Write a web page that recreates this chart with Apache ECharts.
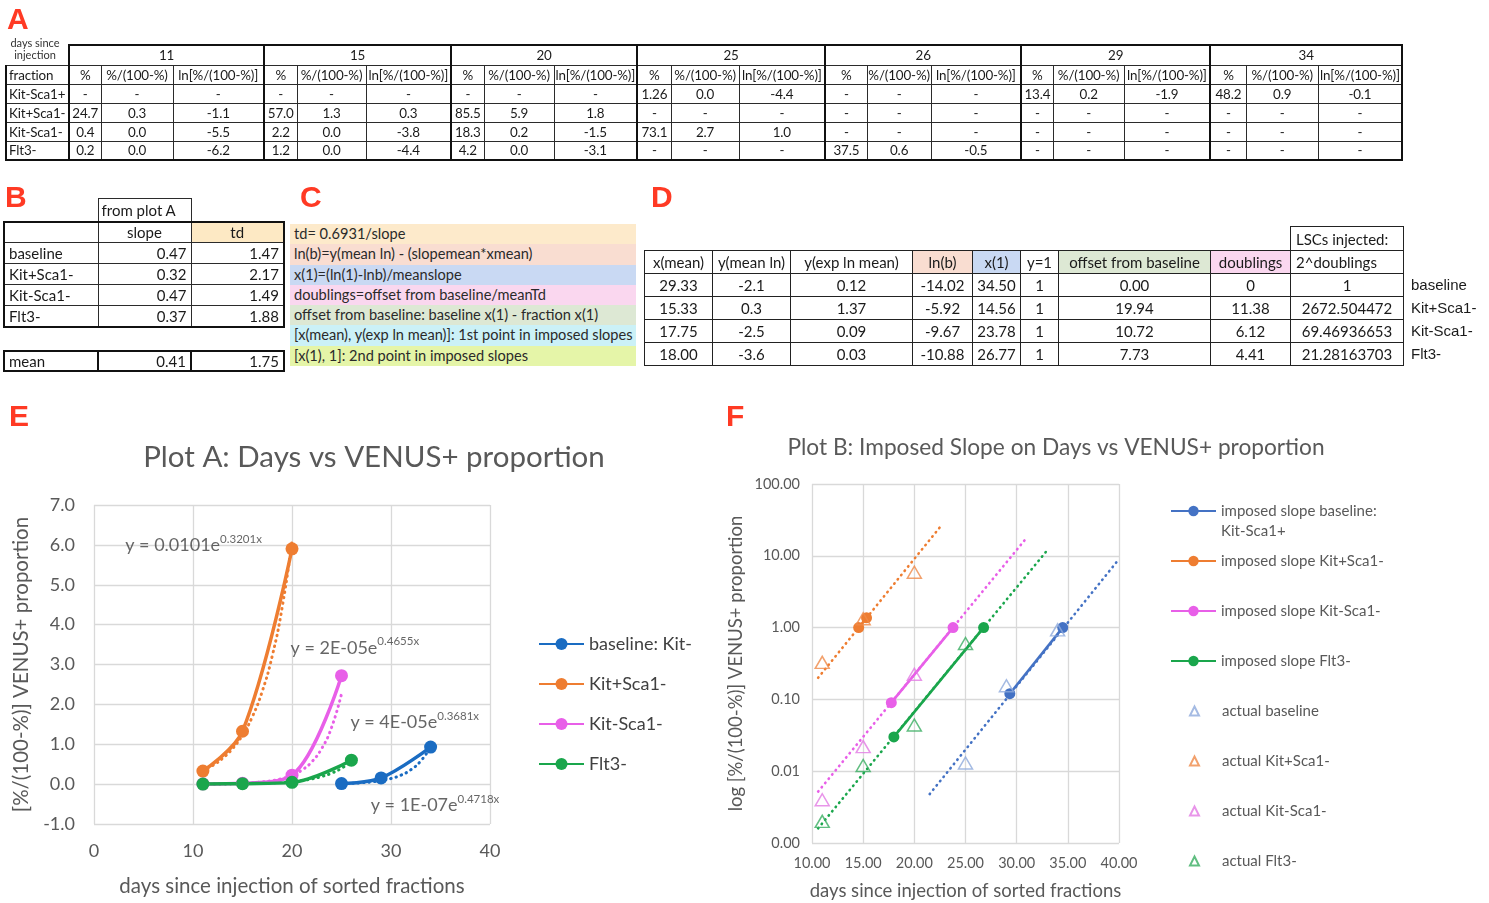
<!DOCTYPE html>
<html>
<head>
<meta charset="utf-8">
<title>VENUS+ proportion by sorted fraction</title>
<script src="https://cdn.jsdelivr.net/npm/echarts@6/dist/echarts.min.js"></script>
<style>
  html, body { margin: 0; padding: 0; background: #fff; }
  body { width: 1489px; height: 903px; position: relative; overflow: hidden;
         font-family: Lato, 'Noto Sans', sans-serif; color: #1a1a1a; }
  #chart { position: absolute; left: 0; top: 0; width: 1489px; height: 903px; z-index: 1; }
  .panel { position: absolute; z-index: 3; color: #ff3a24;
           font: bold 30px/30px 'Liberation Sans', Arial, sans-serif; }
  table { position: absolute; z-index: 2; border-collapse: collapse; table-layout: fixed; }
  td { padding: 0; white-space: nowrap; overflow: hidden; text-align: center; line-height: 16px; }

  /* table A */
  #tA { left: 5px; top: 44px; width: 1396px; font-size: 13.4px; letter-spacing: -0.15px; }
  #tA td { border: 1px solid #2b2b2b; }
  #tA tr { height: 19px; }
  #tA tr.days { height: 20px; }
  #tA tr.days td { border-top: 2px solid #111; }
  #tA tr.last td { border-bottom: 2px solid #111; }
  #tA td.g { border-left: 2px solid #111; }
  #tA td.r { border-right: 2px solid #111; }
  #tA td.lab { text-align: left; padding-left: 2px; border-left: 2px solid #111; }
  #tA tr.days td.corner { border: none; overflow: visible; text-align: left; vertical-align: top; }
  #tA td.corner div { position: relative; top: -8px; left: 2px; height: 0; overflow: visible; letter-spacing: 0;
                      font-size: 11px; line-height: 12px; color: #333; text-align: center; width: 54px; }

  /* table B */
  #tB { left: 3px; top: 198px; width: 280px; font-size: 15px; }
  #tB td { border: 1px solid #2b2b2b; }
  #tB tr { height: 21px; }
  #tB tr.fp { height: 23px; }
  #tB td.nb { border: none; }
  #tB td.fromA { text-align: left; padding-left: 3px; }
  #tB tr.hd td { border-top: 2px solid #111; }
  #tB tr.last td { border-bottom: 2px solid #111; }
  #tB td.lab { text-align: left; padding-left: 4px; border-left: 2px solid #111; }
  #tB td.num { text-align: right; padding-right: 4px; }
  #tB td.rr { border-right: 2px solid #111; }
  #tB td.tdh { background: #fde9c4; }
  #tBm { left: 3px; top: 350px; width: 280px; font-size: 15px; }
  #tBm tr { height: 20px; }
  #tBm td { border: 2px solid #111; }
  #tBm td.in { border-left: 1px solid #2b2b2b; border-right: 1px solid #2b2b2b; }
  #tBm td.lab { text-align: left; padding-left: 4px; }
  #tBm td.num { text-align: right; padding-right: 4px; }

  /* panel C notes */
  #notes { position: absolute; z-index: 2; left: 290px; top: 224px; width: 346px; font-size: 14.6px; color: #2a2a2a; }
  #notes div { height: 20.3px; line-height: 20.3px; padding-left: 4px; white-space: nowrap; }

  /* table D */
  #tD { left: 644px; top: 226px; width: 845px; font-size: 15px; }
  #tD tr { height: 23px; }
  #tD tr.top { height: 24px; }
  #tD td.b { border: 1px solid #222; }
  #tD td.lft { text-align: left; padding-left: 5px; }
  #tD td.side { text-align: left; padding-left: 7px; font-family: 'Liberation Sans', Arial, sans-serif; font-size: 15px; }
</style>
</head>
<body>
<div id="chart"></div>

<div class="panel" style="left:7px;top:4px">A</div>
<div class="panel" style="left:5px;top:182px">B</div>
<div class="panel" style="left:300px;top:182px">C</div>
<div class="panel" style="left:651px;top:182px">D</div>
<div class="panel" style="left:9px;top:401px">E</div>
<div class="panel" style="left:726px;top:401px">F</div>

<table id="tA"></table>
<table id="tB"></table>
<table id="tBm"></table>
<div id="notes"></div>
<table id="tD"></table>

<script>
// ---------------- Panel A: VENUS+ measurements per sorted fraction ----------------
const daysSinceInjection = [11, 15, 20, 25, 26, 29, 34];
const measureHeads = ['%', '%/(100-%)', 'ln[%/(100-%)]'];
const fractionNames = ['Kit-Sca1+', 'Kit+Sca1-', 'Kit-Sca1-', 'Flt3-'];
const pctByFraction = [
  ['-', '-', '-', '1.26', '-', '13.4', '48.2'],
  ['24.7', '57.0', '85.5', '-', '-', '-', '-'],
  ['0.4', '2.2', '18.3', '73.1', '-', '-', '-'],
  ['0.2', '1.2', '4.2', '-', '37.5', '-', '-']
];
const ratioByFraction = [
  ['-', '-', '-', '0.0', '-', '0.2', '0.9'],
  ['0.3', '1.3', '5.9', '-', '-', '-', '-'],
  ['0.0', '0.0', '0.2', '2.7', '-', '-', '-'],
  ['0.0', '0.0', '0.0', '-', '0.6', '-', '-']
];
const lnRatioByFraction = [
  ['-', '-', '-', '-4.4', '-', '-1.9', '-0.1'],
  ['-1.1', '0.3', '1.8', '-', '-', '-', '-'],
  ['-5.5', '-3.8', '-1.5', '1.0', '-', '-', '-'],
  ['-6.2', '-4.4', '-3.1', '-', '-0.5', '-', '-']
];

// ---------------- Panel B: slopes from plot A ----------------
const slopeRowNames = ['baseline', 'Kit+Sca1-', 'Kit-Sca1-', 'Flt3-'];
const slopeValues = ['0.47', '0.32', '0.47', '0.37'];
const doublingTimes = ['1.47', '2.17', '1.49', '1.88'];
const slopeMean = '0.41';
const doublingTimeMean = '1.75';

// ---------------- Panel C: formula notes ----------------
const noteLines = [
  'td= 0.6931/slope',
  'ln(b)=y(mean ln) - (slopemean*xmean)',
  'x(1)=(ln(1)-lnb)/meanslope',
  'doublings=offset from baseline/meanTd',
  'offset from baseline: baseline x(1) -  fraction x(1)',
  '[x(mean), y(exp ln mean)]: 1st point in imposed slopes',
  '[x(1), 1]: 2nd point in imposed slopes'
];
const noteColors = ['#fdeacb', '#f9ddd1', '#c9d9f3', '#fad7ef', '#dde8d4', '#cbf1f7', '#e5f5a8'];

// ---------------- Panel D: imposed-slope points ----------------
const dHeads = ['x(mean)', 'y(mean ln)', 'y(exp ln mean)', 'ln(b)', 'x(1)', 'y=1', 'offset from baseline', 'doublings', '2^doublings'];
const dHeadColors = ['', '', '', '#f9ddd1', '#c9d9f3', '', '#dde8d4', '#fad7ef', ''];
const dRowNames = ['baseline', 'Kit+Sca1-', 'Kit-Sca1-', 'Flt3-'];
const xMean = [29.33, 15.33, 17.75, 18.00];
const yMeanLn = [-2.1, 0.3, -2.5, -3.6];
const yExpLnMean = [0.12, 1.37, 0.09, 0.03];
const lnB = [-14.02, -5.92, -9.67, -10.88];
const xOne = [34.50, 14.56, 23.78, 26.77];
const yOne = [1, 1, 1, 1];
const offsetFromBaseline = [0.00, 19.94, 10.72, 7.73];
const doublingsText = ['0', '11.38', '6.12', '4.41'];
const lscsInjectedText = ['1', '2672.504472', '69.46936653', '21.28163703'];

// ---------------- Plot A (panel E): days vs [%/(100-%)] ----------------
const daysBaseline = [25, 29, 34];
const ratioBaseline = [0.013, 0.155, 0.93];
const daysKitPos = [11, 15, 20];
const ratioKitPos = [0.328, 1.326, 5.90];
const daysKitNeg = [11, 15, 20, 25];
const ratioKitNeg = [0.004, 0.022, 0.224, 2.72];
const daysFlt3 = [11, 15, 20, 26];
const ratioFlt3 = [0.002, 0.012, 0.044, 0.60];

// exponential trendlines, read at whole days
const trendDaysBaseline = [25, 26, 27, 28, 29, 30, 31, 32, 33, 34];
const trendBaseline = [0.0133, 0.0213, 0.0341, 0.0546, 0.0875, 0.140, 0.225, 0.360, 0.578, 0.926];
const trendDaysKitPos = [11, 12, 13, 14, 15, 16, 17, 18, 19, 20];
const trendKitPos = [0.342, 0.470, 0.648, 0.892, 1.229, 1.693, 2.331, 3.211, 4.422, 6.090];
const trendDaysKitNeg = [11, 12, 13, 14, 15, 16, 17, 18, 19, 20, 21, 22, 23, 24, 25];
const trendKitNeg = [0.0033, 0.0053, 0.0085, 0.0135, 0.0216, 0.0343, 0.0547, 0.0871, 0.139, 0.221, 0.352, 0.561, 0.893, 1.422, 2.265];
const trendDaysFlt3 = [11, 12, 13, 14, 15, 16, 17, 18, 19, 20, 21, 22, 23, 24, 25, 26];
const trendFlt3 = [0.0023, 0.0033, 0.0048, 0.0069, 0.0100, 0.0145, 0.0209, 0.0302, 0.0436, 0.0630, 0.0910, 0.1315, 0.190, 0.275, 0.397, 0.574];
const trendCoefText = ['0.0101', '2E-05', '4E-05', '1E-07'];
const trendRateText = ['0.3201', '0.4655', '0.3681', '0.4718'];

// ---------------- Plot B (panel F): actual values on log scale ----------------
const actualDaysBaseline = [25, 29, 34];
const actualBaseline = [0.013, 0.155, 0.93];
const actualDaysKitPos = [11, 15, 20];
const actualKitPos = [0.328, 1.326, 5.90];
const actualDaysKitNeg = [11, 15, 20];
const actualKitNeg = [0.004, 0.022, 0.224];
const actualDaysFlt3 = [11, 15, 20, 25];
const actualFlt3 = [0.002, 0.012, 0.044, 0.60];
// dotted imposed-slope trendlines: start and end points
const imposedTrendStart = [[21.5, 0.0048], [10.6, 0.20], [10.6, 0.0052], [10.6, 0.0016]];
const imposedTrendEnd = [[40, 9.0], [22.5, 25], [31.0, 18], [33.0, 12]];

// ================= tables =================
function buildTableA() {
  const colW = [63, 32, 72, 91, 33, 69, 85, 33, 70, 83, 34, 68, 86, 42, 64, 90, 32, 71, 86, 36, 72, 84];
  const nDays = daysSinceInjection.length;
  let h = '<colgroup>' + colW.map(w => `<col style="width:${w}px">`).join('') + '</colgroup>';
  h += '<tr class="days"><td class="corner"><div>days since<br>injection</div></td>' +
    daysSinceInjection.map((d, i) => `<td colspan="3" class="g${i === nDays - 1 ? ' r' : ''}">${d}</td>`).join('') + '</tr>';
  const cellRow = (vals) => vals.map((v, k) =>
    `<td class="${k % 3 === 0 ? 'g' : ''}${k === vals.length - 1 ? ' r' : ''}">${v}</td>`).join('');
  const headVals = [];
  daysSinceInjection.forEach(() => headVals.push(...measureHeads));
  h += '<tr><td class="lab">fraction</td>' + cellRow(headVals) + '</tr>';
  fractionNames.forEach((f, r) => {
    const vals = [];
    daysSinceInjection.forEach((d, c) => vals.push(pctByFraction[r][c], ratioByFraction[r][c], lnRatioByFraction[r][c]));
    h += `<tr class="${r === fractionNames.length - 1 ? 'last' : ''}"><td class="lab">${f}</td>` + cellRow(vals) + '</tr>';
  });
  document.getElementById('tA').innerHTML = h;
}

function buildTableB() {
  let h = '<colgroup><col style="width:94px"><col style="width:93px"><col style="width:93px"></colgroup>';
  h += '<tr class="fp"><td class="nb"></td><td class="fromA">from plot A</td><td class="nb"></td></tr>';
  h += '<tr class="hd"><td class="lab"></td><td>slope</td><td class="tdh rr">td</td></tr>';
  slopeRowNames.forEach((n, i) => {
    h += `<tr class="${i === slopeRowNames.length - 1 ? 'last' : ''}"><td class="lab">${n}</td>` +
      `<td class="num">${slopeValues[i]}</td><td class="num rr">${doublingTimes[i]}</td></tr>`;
  });
  document.getElementById('tB').innerHTML = h;
  document.getElementById('tBm').innerHTML =
    '<colgroup><col style="width:94px"><col style="width:93px"><col style="width:93px"></colgroup>' +
    `<tr><td class="lab">mean</td><td class="num in">${slopeMean}</td><td class="num">${doublingTimeMean}</td></tr>`;
}

function buildNotes() {
  document.getElementById('notes').innerHTML =
    noteLines.map((t, i) => `<div style="background:${noteColors[i]}">${t}</div>`).join('');
}

function buildTableD() {
  const colW = [68, 78, 122, 60, 48, 38, 152, 80, 113, 86];
  let h = '<colgroup>' + colW.map(w => `<col style="width:${w}px">`).join('') + '</colgroup>';
  h += '<tr class="top">' + '<td></td>'.repeat(8) + '<td class="b lft">LSCs injected:</td><td></td></tr>';
  h += '<tr>' + dHeads.map((t, i) =>
    `<td class="b${i === 8 ? ' lft' : ''}" style="${dHeadColors[i] ? 'background:' + dHeadColors[i] : ''}">${t}</td>`).join('') + '<td></td></tr>';
  dRowNames.forEach((n, i) => {
    const cells = [xMean[i].toFixed(2), yMeanLn[i].toFixed(1), yExpLnMean[i].toFixed(2), lnB[i].toFixed(2),
      xOne[i].toFixed(2), String(yOne[i]), offsetFromBaseline[i].toFixed(2), doublingsText[i], lscsInjectedText[i]];
    h += '<tr>' + cells.map(c => `<td class="b">${c}</td>`).join('') + `<td class="side">${n}</td></tr>`;
  });
  document.getElementById('tD').innerHTML = h;
}

buildTableA();
buildTableB();
buildNotes();
buildTableD();

// ================= charts =================
const zip = (xs, ys) => xs.map((x, i) => [x, ys[i]]);
const FONT = 'Lato';
const GRID_LINE = '#d9d9d9';
const AXIS_TEXT = '#595959';

const colE = { baseline: '#1a6cc2', kitPos: '#ee7d31', kitNeg: '#e85fe8', flt3: '#1aa64c' };
const colF = { baseline: '#4472c4', kitPos: '#ee7d31', kitNeg: '#e85fe8', flt3: '#1aa64c' };
const colTri = { baseline: '#8eaadc', kitPos: '#ef8a48', kitNeg: '#e27be4', flt3: '#3aae62' };

const plotA = [
  { name: 'baseline: Kit-', color: colE.baseline, d: zip(daysBaseline, ratioBaseline), t: zip(trendDaysBaseline, trendBaseline) },
  { name: 'Kit+Sca1-', color: colE.kitPos, d: zip(daysKitPos, ratioKitPos), t: zip(trendDaysKitPos, trendKitPos) },
  { name: 'Kit-Sca1-', color: colE.kitNeg, d: zip(daysKitNeg, ratioKitNeg), t: zip(trendDaysKitNeg, trendKitNeg) },
  { name: 'Flt3-', color: colE.flt3, d: zip(daysFlt3, ratioFlt3), t: zip(trendDaysFlt3, trendFlt3) }
];

const dotted = (color, width) => ({ color, width, type: [0.5, 5], cap: 'round' });

const series = [];
plotA.forEach((p) => {
  series.push({
    name: p.name + ' trend', type: 'line', xAxisIndex: 0, yAxisIndex: 0,
    data: p.t, smooth: true, symbol: 'none', silent: true, z: 2,
    lineStyle: dotted(p.color, 3)
  });
});
plotA.forEach((p) => {
  series.push({
    name: p.name, type: 'line', xAxisIndex: 0, yAxisIndex: 0,
    data: p.d, smooth: 0.35, symbol: 'circle', symbolSize: 13, z: 3,
    lineStyle: { color: p.color, width: 3.5 }, itemStyle: { color: p.color }
  });
});

// trendline equations, anchored in data units of plot A
const eqAnchors = [[3.1, 6.0], [19.8, 3.42], [25.85, 1.56], [27.9, -0.52]];
series.push({
  name: 'equations', type: 'scatter', xAxisIndex: 0, yAxisIndex: 0, silent: true, z: 5,
  symbolSize: 1, itemStyle: { color: 'rgba(0,0,0,0)' },
  data: eqAnchors.map((a, i) => ({ value: a, coef: trendCoefText[i], rate: trendRateText[i] })),
  label: {
    show: true, position: 'right', distance: 0,
    formatter: (p) => `{m|y = ${p.data.coef}e}{s|${p.data.rate}x}`,
    rich: {
      m: { fontFamily: FONT, fontSize: 18, color: '#404040', lineHeight: 24 },
      s: { fontFamily: FONT, fontSize: 11.5, color: '#404040', verticalAlign: 'top' }
    }
  }
});

// plot B
const fracKeys = ['baseline', 'kitPos', 'kitNeg', 'flt3'];
const imposedNames = ['imposed slope baseline: Kit-Sca1+', 'imposed slope Kit+Sca1-', 'imposed slope Kit-Sca1-', 'imposed slope Flt3-'];
const actualNames = ['actual baseline', 'actual Kit+Sca1-', 'actual Kit-Sca1-', 'actual Flt3-'];
const actualData = [
  zip(actualDaysBaseline, actualBaseline), zip(actualDaysKitPos, actualKitPos),
  zip(actualDaysKitNeg, actualKitNeg), zip(actualDaysFlt3, actualFlt3)
];
fracKeys.forEach((k, i) => {
  series.push({
    name: imposedNames[i] + ' trend', type: 'line', xAxisIndex: 1, yAxisIndex: 1,
    data: [imposedTrendStart[i], imposedTrendEnd[i]], symbol: 'none', silent: true, z: 2,
    lineStyle: dotted(colF[k], 2.6)
  });
});
fracKeys.forEach((k, i) => {
  series.push({
    name: imposedNames[i], type: 'line', xAxisIndex: 1, yAxisIndex: 1,
    data: [[xMean[i], yExpLnMean[i]], [xOne[i], yOne[i]]],
    symbol: 'circle', symbolSize: 11, z: 3,
    lineStyle: { color: colF[k], width: 2.6 }, itemStyle: { color: colF[k] }
  });
});
fracKeys.forEach((k, i) => {
  series.push({
    name: actualNames[i], type: 'scatter', xAxisIndex: 1, yAxisIndex: 1,
    data: actualData[i], symbol: 'triangle', symbolSize: [14, 12], z: 4,
    itemStyle: { color: 'rgba(255,255,255,0)', borderColor: colTri[k], borderWidth: 1.5 }
  });
});

const axisText = (size) => ({ fontFamily: FONT, fontSize: size, color: AXIS_TEXT });

const option = {
  animation: false,
  backgroundColor: '#fff',
  textStyle: { fontFamily: FONT },
  graphic: [
    { type: 'text', x: 374, y: 457, style: { text: 'Plot A: Days vs VENUS+ proportion', font: '29.5px Lato', fill: '#595959', align: 'center', verticalAlign: 'middle' } },
    { type: 'text', x: 1056, y: 448, style: { text: 'Plot B: Imposed Slope on Days vs VENUS+ proportion', font: '22.7px Lato', fill: '#595959', align: 'center', verticalAlign: 'middle' } }
  ],
  grid: [
    { left: 94, top: 505, width: 396, height: 319 },
    { left: 812, top: 484, width: 307, height: 359 }
  ],
  xAxis: [
    {
      gridIndex: 0, type: 'value', min: 0, max: 40, interval: 10,
      axisLine: { show: false, onZero: false }, axisTick: { show: false },
      axisLabel: Object.assign({ margin: 18 }, axisText(18)),
      splitLine: { lineStyle: { color: GRID_LINE, width: 1.3 } },
      name: 'days since injection of sorted fractions', nameLocation: 'middle', nameGap: 52,
      nameTextStyle: axisText(20.5)
    },
    {
      gridIndex: 1, type: 'value', min: 10, max: 40, interval: 5,
      axisLine: { show: false, onZero: false }, axisTick: { show: false },
      axisLabel: Object.assign({ margin: 13, formatter: (v) => v.toFixed(2) }, axisText(14.5)),
      splitLine: { lineStyle: { color: GRID_LINE, width: 1.3 } },
      name: 'days since injection of sorted fractions', nameLocation: 'middle', nameGap: 39,
      nameTextStyle: axisText(18.5)
    }
  ],
  yAxis: [
    {
      gridIndex: 0, type: 'value', min: -1, max: 7, interval: 1,
      axisLine: { show: false }, axisTick: { show: false },
      axisLabel: Object.assign({ margin: 19, formatter: (v) => v.toFixed(1) }, axisText(18)),
      splitLine: { lineStyle: { color: GRID_LINE, width: 1.3 } },
      name: '[%/(100-%)] VENUS+ proportion', nameLocation: 'middle', nameGap: 62, nameRotate: 90,
      nameTextStyle: axisText(20.5)
    },
    {
      gridIndex: 1, type: 'log', logBase: 10, min: 0.001, max: 100,
      axisLine: { show: false }, axisTick: { show: false },
      axisLabel: Object.assign({ margin: 12, formatter: (v) => v.toFixed(2) }, axisText(14.5)),
      splitLine: { lineStyle: { color: GRID_LINE, width: 1.3 } },
      minorSplitLine: { show: false },
      name: 'log [%/(100-%)] VENUS+ proportion', nameLocation: 'middle', nameGap: 66, nameRotate: 90,
      nameTextStyle: axisText(18.5)
    }
  ],
  legend: [
    {
      left: 533, top: 628, orient: 'vertical', itemGap: 18, itemWidth: 45, itemHeight: 15,
      data: plotA.map(p => p.name), selectedMode: false,
      textStyle: { fontFamily: FONT, fontSize: 18, color: '#404040', lineHeight: 22 }
    },
    {
      left: 1165, top: 476, orient: 'vertical', itemWidth: 45, itemHeight: 13,
      data: [imposedNames[0]], selectedMode: false,
      formatter: (n) => '\n' + n.replace('baseline: ', 'baseline:\n'),
      textStyle: { fontFamily: FONT, fontSize: 15, color: AXIS_TEXT, lineHeight: 20 }
    },
    {
      left: 1165, top: 546, orient: 'vertical', itemGap: 30, itemWidth: 45, itemHeight: 13,
      data: imposedNames.slice(1), selectedMode: false,
      textStyle: { fontFamily: FONT, fontSize: 15, color: AXIS_TEXT, lineHeight: 20 }
    },
    {
      left: 1184, top: 696, orient: 'vertical', itemGap: 30, itemWidth: 9, itemHeight: 9,
      symbolKeepAspect: true,
      data: actualNames, selectedMode: false,
      textStyle: { fontFamily: FONT, fontSize: 15, color: AXIS_TEXT, lineHeight: 20, padding: [0, 0, 0, 18] }
    }
  ],
  series
};

const chart = echarts.init(document.getElementById('chart'), null, { renderer: 'canvas' });
chart.setOption(option);
</script>
</body>
</html>
